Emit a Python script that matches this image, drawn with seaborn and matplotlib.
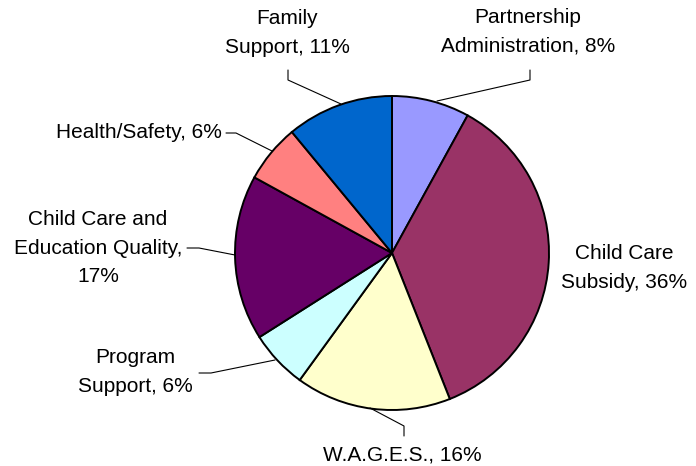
import matplotlib
matplotlib.use("Agg")
import matplotlib.pyplot as plt
import seaborn as sns

# Budget shares (percent), clockwise from 12 o'clock
categories = [
    "Partnership\nAdministration",
    "Child Care\nSubsidy",
    "W.A.G.E.S.",
    "Program\nSupport",
    "Child Care and\nEducation Quality",
    "Health/Safety",
    "Family\nSupport",
]
shares = [8, 36, 16, 6, 17, 6, 11]
colors = ["#9999FF", "#993366", "#FFFFCC", "#CCFFFF", "#660066", "#FF8080", "#0066CC"]

label_texts = [
    "Partnership\nAdministration, 8%",
    "Child Care\nSubsidy, 36%",
    "W.A.G.E.S., 16%",
    "Program\nSupport, 6%",
    "Child Care and\nEducation Quality,\n17%",
    "Health/Safety, 6%",
    "Family\nSupport, 11%",
]

W, H = 696, 466
sns.set_theme(style="white")
plt.rcParams["font.family"] = ["Liberation Sans", "DejaVu Sans"]

fig = plt.figure(figsize=(W / 100, H / 100), dpi=100)
ax = fig.add_axes([0, 0, 1, 1])


def fy(y):
    # pixel row (top-down) -> data y (bottom-up)
    return H - y


ax.pie(
    shares,
    colors=colors,
    startangle=90,
    counterclock=False,
    center=(392, fy(253)),
    radius=157,
    wedgeprops=dict(edgecolor="black", linewidth=1.4),
)

# label placement (pixel coords): x, y, ha, leader polyline
label_layout = [
    (528, 32, "center", [(530, 70), (530, 80), (437, 101)]),
    (624, 268, "center", None),
    (402, 455, "center", [(404, 436), (404, 426), (370, 408)]),
    (135, 372, "center", [(199, 373), (211, 373), (275, 360)]),
    (98, 248, "center", [(187, 248), (199, 248), (235, 255)]),
    (222, 133, "right", [(226, 133), (236, 133), (272, 151)]),
    (287, 33, "center", [(288, 70), (288, 80), (341, 104)]),
]

for text, (x, y, ha, leader) in zip(label_texts, label_layout):
    ax.text(x, fy(y), text, ha=ha, va="center", fontsize=15,
            linespacing=1.62, color="black")
    if leader:
        ax.plot([p[0] for p in leader], [fy(p[1]) for p in leader],
                color="black", linewidth=0.8)

ax.set_xlim(0, W)
ax.set_ylim(0, H)
ax.set_aspect("equal")
ax.axis("off")

fig.savefig("out.png", dpi=100, facecolor="white")
